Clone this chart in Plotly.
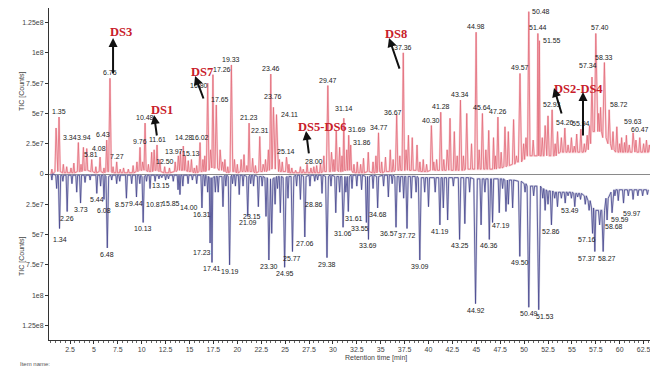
import plotly.graph_objects as go

E7 = 1e7

# ---------------- upper (red) chromatogram: peaks ----------------
red_rt = [0.6, 1.04, 1.35, 1.8, 2.15, 2.6, 2.9, 3.37, 3.65, 3.9, 4.25, 4.77, 5.2, 5.64, 6.05, 6.34, 6.68, 7.0, 7.38, 7.75,
          8.1, 8.6, 9.1, 9.5, 9.82, 10.1, 10.35, 10.7, 11.04, 11.3, 11.6, 11.9, 12.4, 12.9, 13.5, 13.83, 14.05, 14.35, 14.55, 14.87,
          15.2, 15.5, 15.75, 16.1, 16.4, 16.6, 16.9, 17.2, 17.45, 17.8, 18.2, 18.45, 18.7, 19.0, 19.38, 19.7, 20.0, 20.4, 20.7, 21.0,
          21.23, 21.6, 21.9, 22.35, 22.7, 22.95, 23.25, 23.5, 23.78, 24.1, 24.4, 24.7, 25.14, 25.4, 25.7, 26.1, 26.6, 26.9, 27.3, 27.7,
          28.0, 28.3, 28.7, 29.05, 29.47, 29.85, 30.1, 30.35, 30.7, 30.95, 31.14, 31.45, 31.65, 31.86, 32.2, 32.55, 32.9, 33.2, 33.7, 34.2,
          34.5, 34.77, 35.1, 35.5, 36.0, 36.3, 36.67, 37.0, 37.36, 37.65, 37.9, 38.3, 38.8, 39.1, 39.45, 39.8, 40.3, 40.55, 40.85, 41.28,
          41.6, 41.95, 42.25, 42.7, 43.0, 43.34, 43.65, 44.0, 44.5, 44.98, 45.3, 45.64, 46.0, 46.3, 46.8, 47.0, 47.26, 47.6, 48.0, 48.35,
          48.9, 49.2, 49.57, 49.95, 50.2, 50.49, 50.95, 51.44, 51.6, 51.9, 52.2, 52.5, 52.93, 53.25, 53.5, 53.9, 54.26, 54.6, 54.95, 55.25,
          55.5, 55.94, 56.3, 56.6, 56.85, 57.1, 57.5, 57.8, 58.0, 58.4, 58.9, 59.3, 59.7, 60.0, 60.2, 60.5, 60.7, 61.0, 61.4, 61.7,
          62.1, 62.5, 62.8, 63.1]
red_h = [0.4, 3.8, 4.7, 0.8, 0.6, 0.5, 0.9, 2.6, 0.8, 2.2, 2.1, 1.2, 0.6, 1.4, 0.5, 2.8, 7.9, 0.6, 1.0, 0.4,
         0.5, 0.4, 0.7, 1.0, 2.2, 1.0, 4.2, 0.8, 1.8, 2.0, 2.4, 1.2, 0.6, 0.5, 1.0, 1.5, 1.9, 2.3, 1.5, 1.1,
         1.2, 0.5, 0.7, 2.6, 1.2, 1.5, 7.5, 2.0, 8.2, 5.7, 2.0, 1.0, 1.2, 0.6, 9.0, 1.2, 0.8, 1.2, 1.6, 0.7,
         4.2, 1.3, 0.7, 3.1, 0.8, 1.2, 2.0, 8.25, 5.5, 4.9, 1.2, 1.0, 1.4, 0.8, 0.5, 0.3, 0.6, 0.4, 0.8, 0.5,
         0.6, 0.7, 0.9, 1.5, 7.3, 1.8, 1.2, 3.6, 2.2, 1.5, 4.6, 2.0, 3.2, 2.4, 0.8, 1.0, 0.8, 1.3, 1.8, 1.0,
         1.5, 3.4, 1.0, 1.4, 2.0, 1.2, 4.9, 1.5, 10.0, 2.0, 3.2, 3.0, 2.4, 1.0, 1.2, 0.8, 4.0, 1.0, 1.2, 5.1,
         1.2, 2.0, 4.6, 3.5, 1.5, 6.1, 1.5, 5.0, 2.5, 11.7, 2.0, 5.0, 2.0, 3.6, 3.0, 1.5, 4.7, 1.8, 3.9, 3.5,
         4.5, 1.5, 8.3, 2.5, 3.0, 13.4, 2.8, 11.6, 11.0, 3.0, 4.0, 4.8, 5.3, 2.5, 3.5, 3.0, 3.8, 2.4, 3.0, 2.3,
         3.3, 3.7, 2.5, 3.2, 4.0, 8.0, 11.6, 5.0, 5.5, 9.2, 5.3, 3.5, 3.9, 2.5, 3.0, 2.6, 3.2, 2.4, 3.4, 2.8,
         3.0, 2.5, 2.8, 2.4]
red_base = [0.0, 0.2, 0.2, 0.1, 0.1, 0.1, 0.1, 0.2, 0.2, 0.3, 0.3, 0.2, 0.1, 0.2, 0.1, 0.2, 0.2, 0.1, 0.1, 0.1,
            0.1, 0.1, 0.1, 0.2, 0.3, 0.3, 0.3, 0.2, 0.2, 0.3, 0.3, 0.2, 0.1, 0.1, 0.2, 0.3, 0.3, 0.3, 0.3, 0.2,
            0.2, 0.1, 0.1, 0.2, 0.2, 0.2, 0.3, 0.5, 0.5, 0.5, 0.3, 0.3, 0.2, 0.1, 0.2, 0.2, 0.1, 0.2, 0.2, 0.2,
            0.2, 0.2, 0.1, 0.2, 0.2, 0.2, 0.3, 0.4, 0.5, 0.4, 0.2, 0.2, 0.2, 0.1, 0.1, 0.1, 0.1, 0.1, 0.1, 0.1,
            0.1, 0.1, 0.1, 0.2, 0.2, 0.2, 0.2, 0.3, 0.2, 0.2, 0.3, 0.3, 0.3, 0.3, 0.1, 0.1, 0.1, 0.1, 0.2, 0.1,
            0.1, 0.2, 0.1, 0.2, 0.2, 0.2, 0.3, 0.3, 0.3, 0.3, 0.3, 0.3, 0.3, 0.2, 0.2, 0.2, 0.3, 0.3, 0.3, 0.3,
            0.3, 0.3, 0.3, 0.3, 0.3, 0.3, 0.3, 0.4, 0.4, 0.4, 0.4, 0.4, 0.4, 0.4, 0.4, 0.4, 0.5, 0.5, 0.6, 0.7,
            0.8, 1.0, 1.0, 1.2, 1.5, 1.5, 1.5, 1.5, 1.5, 1.5, 1.5, 1.5, 1.5, 1.5, 1.7, 1.8, 1.8, 1.8, 1.8, 1.8,
            1.8, 1.8, 1.8, 2.0, 2.5, 3.5, 3.5, 3.5, 3.5, 3.0, 2.5, 2.0, 1.8, 1.8, 1.8, 1.8, 1.8, 1.8, 1.8, 1.8,
            1.8, 1.8, 1.8, 1.8]
red_lbl = ['', '', '1.35', '', '', '', '', '3.34', '', '3.94', '4.08', '', '', '5.81', '', '6.43', '6.75', '', '7.27', '',
           '', '', '', '', '9.76', '', '10.48', '', '', '', '11.61', '', '12.50', '', '', '13.97', '', '14.28', '', '',
           '15.13', '', '', '16.02', '', '', '16.80', '', '17.26', '17.65', '', '', '', '', '19.33', '', '', '', '', '',
           '21.23', '', '', '22.31', '', '', '', '23.46', '23.76', '24.11', '', '', '25.14', '', '', '', '', '', '', '',
           '28.00', '', '', '', '29.47', '', '', '', '', '', '31.14', '', '31.69', '31.86', '', '', '', '', '', '',
           '', '34.77', '', '', '', '', '36.67', '', '37.36', '', '', '', '', '', '', '', '40.30', '', '', '41.28',
           '', '', '', '', '', '43.34', '', '', '', '44.98', '', '45.64', '', '', '', '', '47.26', '', '', '',
           '', '', '49.57', '', '', '50.48', '', '51.44', '51.55', '', '', '', '52.93', '', '', '', '54.26', '', '', '',
           '', '55.94', '', '', '', '57.34', '57.40', '', '', '58.33', '58.72', '', '59.63', '', '', '', '', '', '60.47', '',
           '', '', '', '']

# ---------------- lower (blue) chromatogram: peaks (plotted downward) ----------------
blue_rt = [0.6, 1.1, 1.4, 1.75, 2.2, 2.7, 3.2, 3.6, 4.07, 4.6, 5.3, 5.7, 6.05, 6.4, 6.86, 7.38, 7.7, 8.4, 8.95, 9.45,
           9.8, 10.15, 10.5, 10.87, 11.4, 11.8, 12.1, 12.5, 12.8, 13.3, 13.8, 14.0, 14.3, 14.85, 15.3, 15.75, 16.3, 16.6, 16.9, 17.15,
           17.35, 17.7, 18.0, 18.5, 18.8, 19.19, 19.5, 19.8, 20.2, 20.6, 21.09, 21.4, 21.7, 22.2, 22.6, 23.0, 23.3, 23.6, 23.95, 24.2,
           24.5, 24.95, 25.3, 25.77, 26.2, 26.6, 27.06, 27.6, 28.1, 28.4, 28.86, 29.38, 29.8, 30.3, 30.7, 31.06, 31.35, 31.61, 32.0, 32.5,
           33.0, 33.5, 33.72, 34.2, 34.68, 35.3, 35.8, 36.2, 36.6, 37.0, 37.4, 37.75, 38.2, 38.7, 39.09, 39.6, 40.0, 40.7, 41.19, 41.55,
           42.0, 42.6, 43.25, 43.8, 44.3, 44.92, 45.5, 45.9, 46.36, 46.7, 47.4, 47.75, 48.1, 48.35, 48.8, 49.55, 50.1, 50.49, 51.0, 51.53,
           51.95, 52.2, 52.5, 52.86, 53.2, 53.49, 53.9, 54.3, 54.6, 54.95, 55.3, 55.6, 55.9, 56.4, 56.8, 57.16, 57.4, 57.9, 58.27, 58.68,
           59.2, 59.5, 59.85, 60.4, 60.9, 61.4, 61.9, 62.4, 62.9]
blue_h = [0.5, 1.2, 4.5, 0.6, 3.1, 0.8, 1.5, 2.4, 0.7, 0.5, 1.6, 1.0, 2.1, 6.1, 0.5, 0.8, 0.6, 2.0, 0.8, 1.9,
          0.8, 4.0, 0.6, 1.2, 0.6, 0.4, 0.3, 0.5, 0.4, 0.6, 1.3, 1.7, 1.0, 0.8, 0.5, 0.8, 2.8, 1.0, 1.5, 5.7,
          7.3, 1.5, 1.5, 2.7, 1.0, 7.5, 0.8, 1.0, 1.7, 1.0, 3.5, 0.8, 1.0, 2.7, 1.0, 3.5, 7.1, 4.9, 2.5, 1.2,
          3.2, 7.7, 2.0, 6.4, 1.0, 2.1, 5.2, 1.0, 0.6, 0.5, 1.6, 6.9, 1.0, 3.2, 1.5, 4.4, 1.5, 3.1, 1.2, 1.0,
          1.3, 4.0, 5.4, 1.2, 2.8, 1.0, 1.9, 0.8, 4.4, 1.5, 2.0, 4.5, 2.0, 1.5, 7.1, 1.5, 2.7, 1.5, 4.2, 2.8,
          3.8, 1.0, 5.4, 4.1, 1.5, 10.7, 4.2, 1.5, 5.4, 4.0, 3.2, 1.2, 3.1, 2.5, 2.8, 6.8, 1.5, 11.0, 1.8, 11.2,
          2.0, 3.0, 2.5, 4.2, 2.0, 2.7, 2.0, 2.4, 1.8, 2.0, 2.7, 1.9, 2.1, 2.5, 3.0, 4.9, 6.4, 4.2, 6.4, 3.8,
          3.2, 1.8, 2.2, 2.4, 1.8, 2.1, 1.8, 1.8, 1.7]
blue_base = [0.0, 0.1, 0.1, 0.1, 0.1, 0.1, 0.1, 0.1, 0.1, 0.1, 0.1, 0.1, 0.1, 0.2, 0.1, 0.1, 0.1, 0.1, 0.1, 0.1,
             0.1, 0.2, 0.1, 0.1, 0.1, 0.1, 0.1, 0.1, 0.1, 0.1, 0.1, 0.1, 0.1, 0.1, 0.1, 0.1, 0.1, 0.1, 0.2, 0.3,
             0.3, 0.2, 0.2, 0.2, 0.1, 0.2, 0.1, 0.1, 0.1, 0.1, 0.2, 0.1, 0.1, 0.2, 0.2, 0.3, 0.4, 0.4, 0.3, 0.2,
             0.2, 0.3, 0.2, 0.2, 0.1, 0.1, 0.2, 0.1, 0.1, 0.1, 0.1, 0.2, 0.1, 0.2, 0.2, 0.2, 0.2, 0.2, 0.1, 0.1,
             0.1, 0.2, 0.2, 0.1, 0.2, 0.1, 0.1, 0.1, 0.2, 0.2, 0.2, 0.2, 0.2, 0.2, 0.3, 0.3, 0.3, 0.3, 0.3, 0.3,
             0.3, 0.3, 0.3, 0.3, 0.3, 0.4, 0.4, 0.4, 0.4, 0.4, 0.4, 0.4, 0.5, 0.5, 0.5, 0.6, 0.8, 1.0, 1.0, 1.0,
             1.2, 1.3, 1.4, 1.4, 1.5, 1.5, 1.5, 1.5, 1.5, 1.5, 1.6, 1.6, 1.6, 1.8, 2.2, 2.8, 3.0, 3.0, 3.0, 2.0,
             1.5, 1.3, 1.3, 1.3, 1.3, 1.3, 1.3, 1.3, 1.3]
blue_lbl = ['', '', '1.34', '', '2.26', '', '', '3.73', '', '', '5.44', '', '6.08', '6.48', '', '', '', '8.57', '', '9.44',
            '', '10.13', '', '10.87', '', '', '', '', '', '13.15', '', '14.00', '', '', '', '15.85', '16.31', '', '', '17.23',
            '17.41', '', '', '', '', '19.19', '', '', '', '', '21.09', '', '', '', '', '23.15', '23.30', '', '', '',
            '', '24.95', '', '25.77', '', '', '27.06', '', '', '', '28.86', '29.38', '', '', '', '31.06', '', '31.61', '', '',
            '', '33.55', '33.69', '', '34.68', '', '', '', '36.57', '', '', '37.72', '', '', '39.09', '', '', '', '41.19', '',
            '', '', '43.25', '', '', '44.92', '', '', '46.36', '47.19', '', '', '', '', '', '49.50', '', '50.49', '', '51.53',
            '', '', '', '52.86', '', '53.49', '', '', '', '', '', '', '', '', '', '57.16', '57.37', '', '58.27', '58.68',
            '59.59', '', '', '59.97', '', '', '', '', '']

# label nudges (pixels) for labels drawn beside their peak
red_nudge = {'3.34': (-8, 0), '3.94': (1, 4), '4.08': (12, -5), '5.81': (-9, -3), '6.43': (-4, 0),
             '13.97': (-4, -1), '14.28': (1, 3),
             '16.80': (-9, -8), '17.26': (9, 0), '17.65': (4, 0), '23.76': (0, 5), '24.11': (13, -5),
             '31.14': (0, 4), '31.69': (8, 0), '31.86': (11, -3), '36.67': (-4, -3), '50.48': (12, -5),
             '51.55': (13, -5), '57.34': (-4, 6), '57.40': (4, 0), '58.72': (10, 0), '59.63': (16, 0),
             '60.47': (7, -2)}
blue_nudge = {'1.34': (0, -4), '6.08': (0, -5), '8.57': (-4, 0), '9.44': (0, 0), '10.87': (5, -9),
              '13.15': (-12, 2), '14.00': (9, -6),
              '15.85': (-26, -13), '17.23': (-8, -3), '23.15': (-14, 6), '28.86': (-8, -5), '31.61': (6, 0),
              '33.55': (-6, 0), '36.57': (-7, 0), '47.19': (8, 3), '51.53': (6, 0), '53.49': (13, 3),
              '57.16': (-6, 0), '57.37': (-8, 0), '58.27': (4, 0), '58.68': (7, 0), '59.59': (8, 0), '59.97': (8, -4)}

x_ticks = [2.5, 5, 7.5, 10, 12.5, 15, 17.5, 20, 22.5, 25, 27.5, 30, 32.5, 35, 37.5, 40, 42.5, 45, 47.5, 50, 52.5, 55, 57.5, 60, 62.5]
x_ticktext = ['2.5', '5', '7.5', '10', '12.5', '15', '17.5', '20', '22.5', '25', '27.5', '30', '32.5', '35', '37.5',
              '40', '42.5', '45', '47.5', '50', '52.5', '55', '57.5', '60', '62.5']
y_ticks = [-1.25e8, -1e8, -7.5e7, -5e7, -2.5e7, 0, 2.5e7, 5e7, 7.5e7, 1e8, 1.25e8]
y_ticktext = ['1.25e8', '1e8', '7.5e7', '5e7', '2.5e7', '0', '2.5e7', '5e7', '7.5e7', '1e8', '1.25e8']


def build(rt, h, base, sign):
    xs, ys = [], []
    n = len(rt)
    for i in range(n):
        lg = rt[i] - rt[i - 1] if i > 0 else 1.0
        rg = rt[i + 1] - rt[i] if i < n - 1 else 1.0
        w = min(0.08 + 0.01 * h[i], 0.45 * lg, 0.45 * rg)
        xs += [rt[i] - w, rt[i], rt[i] + w]
        ys += [sign * base[i] * E7, sign * h[i] * E7, sign * base[i] * E7]
    return xs, ys


fig = go.Figure()
rx, ry = build(red_rt, red_h, red_base, 1)
bx, by = build(blue_rt, blue_h, blue_base, -1)
fig.add_trace(go.Scatter(x=rx, y=ry, mode='lines', line=dict(color='rgba(245,170,180,0.5)', width=2),
                         hoverinfo='skip', showlegend=False))
fig.add_trace(go.Scatter(x=rx, y=ry, mode='lines', line=dict(color='#e26b78', width=0.8), showlegend=False))
fig.add_trace(go.Scatter(x=bx, y=by, mode='lines', line=dict(color='rgba(170,170,200,0.5)', width=2),
                         hoverinfo='skip', showlegend=False))
fig.add_trace(go.Scatter(x=bx, y=by, mode='lines', line=dict(color='#45458e', width=0.8), showlegend=False))

lab_font = dict(family='Liberation Sans, Arial, sans-serif', size=7, color='#222222')
for t, hh, lb in zip(red_rt, red_h, red_lbl):
    if lb:
        dx, dy = red_nudge.get(lb, (0, 0))
        fig.add_annotation(x=t, y=hh * E7, text=lb, showarrow=False, yanchor='bottom', xshift=dx, yshift=dy,
                           font=lab_font)
for t, hh, lb in zip(blue_rt, blue_h, blue_lbl):
    if lb:
        dx, dy = blue_nudge.get(lb, (0, 0))
        fig.add_annotation(x=t, y=-hh * E7, text=lb, showarrow=False, yanchor='top', xshift=dx, yshift=dy - 1,
                           font=lab_font)

# DS compound tags with arrows
ds_font = dict(family='Liberation Serif, Times New Roman, serif', size=12.5, color='#c8202a')
ds_tags = [('<b>DS3</b>', 7.83, 1.17e8), ('<b>DS1</b>', 12.12, 5.28e7), ('<b>DS7</b>', 16.31, 8.4e7),
           ('<b>DS5-DS6</b>', 28.96, 3.88e7), ('<b>DS8</b>', 36.6, 1.155e8), ('<b>DS2-DS4</b>', 55.64, 7.0e7)]
for txt, t, v in ds_tags:
    fig.add_annotation(x=t, y=v, text=txt, showarrow=False, font=ds_font)
arrows = [(7.0, 1.122e8, 0, 37), (11.29, 4.87e7, 3, 22), (15.58, 8.09e7, 9, 24), (27.19, 3.55e7, 3, 24),
          (35.87, 1.122e8, 11, 32), (53.13, 7.1e7, 8, 27), (56.16, 6.77e7, 0, 45)]
for t, v, ax, ay in arrows:
    fig.add_annotation(x=t, y=v, ax=ax, ay=ay, text='', showarrow=True, arrowhead=2, arrowsize=0.9,
                       arrowwidth=2, arrowcolor='#111111')

ax_font = dict(family='Liberation Sans, Arial, sans-serif', size=7, color='#444444')
fig.add_annotation(xref='paper', yref='paper', x=-0.045, y=0.75, xanchor='center', yanchor='middle',
                   text='TIC [Counts]', textangle=-90, showarrow=False, font=ax_font)
fig.add_annotation(xref='paper', yref='paper', x=-0.045, y=0.253, xanchor='center', yanchor='middle',
                   text='TIC [Counts]', textangle=-90, showarrow=False, font=ax_font)
fig.add_annotation(xref='paper', yref='paper', x=0.544, y=-0.054, xanchor='center', yanchor='middle',
                   text='Retention time [min]', showarrow=False, font=ax_font)
fig.add_annotation(xref='paper', yref='paper', x=-0.052, y=-0.072, xanchor='left', yanchor='middle',
                   text='Item name:', showarrow=False,
                   font=dict(family='Liberation Sans, Arial, sans-serif', size=6, color='#555555'))

fig.update_xaxes(range=[0.30, 63.17], tickvals=x_ticks, ticktext=x_ticktext, showline=True, linecolor='#333333',
                 linewidth=1, ticks='outside', ticklen=3, tickcolor='#333333', tickfont=ax_font, showgrid=False,
                 zeroline=False, automargin=False, ticklabeloverflow='allow',
                 minor=dict(dtick=0.5, ticks='outside', ticklen=2, tickcolor='#666666'))
fig.update_yaxes(range=[-1.37e8, 1.37e8], tickvals=y_ticks, ticktext=y_ticktext, showline=True,
                 linecolor='#333333', linewidth=1, ticks='outside', ticklen=3, tickcolor='#333333',
                 tickfont=ax_font, showgrid=False, zeroline=True, zerolinecolor='#8a8a8a', zerolinewidth=1,
                 automargin=False)
fig.update_layout(width=650, height=367, margin=dict(l=49, r=0, t=8, b=27, autoexpand=False),
                  plot_bgcolor='white', paper_bgcolor='white', showlegend=False)
fig.write_html('out.html', config={'displayModeBar': False},
               post_script="document.body.style.margin='0';document.body.style.overflow='hidden';")
